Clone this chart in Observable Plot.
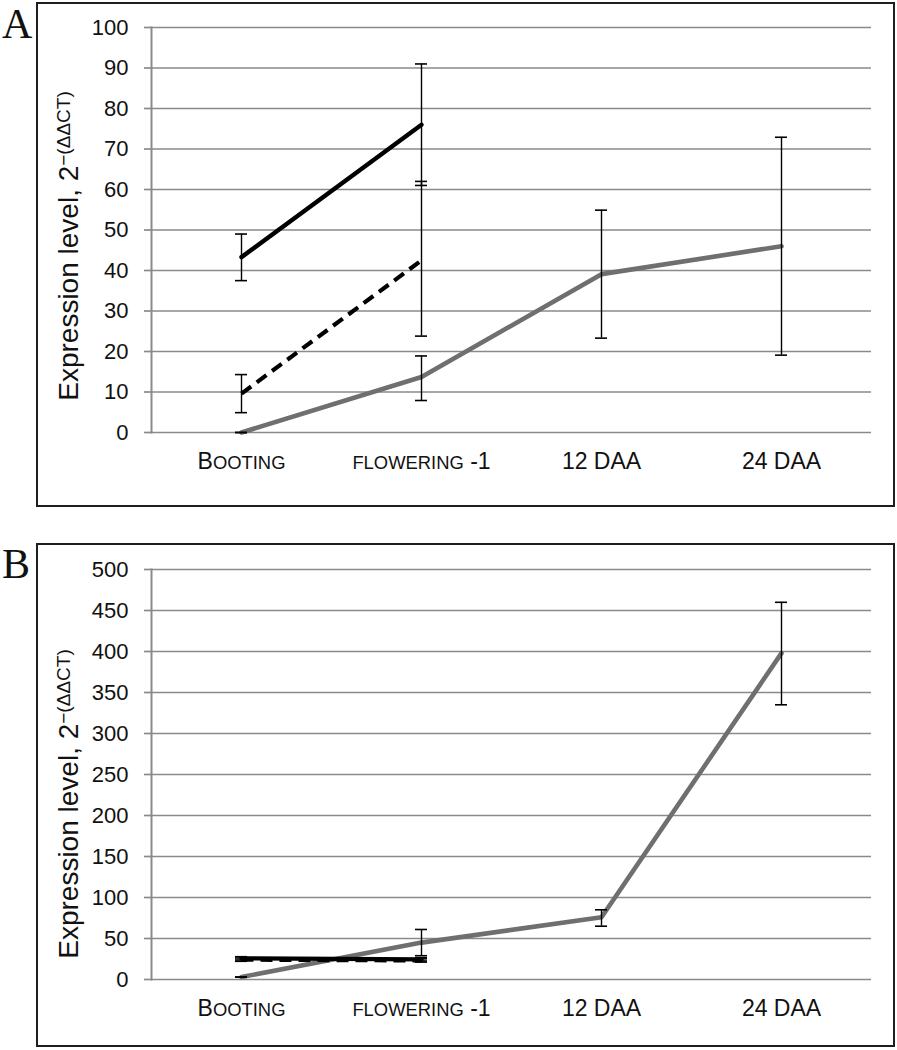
<!DOCTYPE html>
<html>
<head>
<meta charset="utf-8">
<script src="https://cdn.jsdelivr.net/npm/d3@7"></script>
<script src="https://cdn.jsdelivr.net/npm/@observablehq/plot@0.6"></script>
<style>
  body { margin: 0; background: #fff; }
  #root { position: relative; width: 897px; height: 1050px; overflow: hidden; }
  .panel { position: absolute; left: 0; }
  .box { position: absolute; box-sizing: border-box; border: 2px solid #1e1e1e; background: transparent; pointer-events: none; }
  .letter { position: absolute; font-family: "Liberation Serif", "Times New Roman", serif; font-size: 42px; line-height: 1; color: #111; }
  .ylab { position: absolute; font-family: "Liberation Sans", Arial, sans-serif; font-size: 28px; color: #111; white-space: nowrap; line-height: 1; transform: translate(-50%, -50%) rotate(-90deg); }
  .ylab span { font-size: 19px; position: relative; top: -0.4em; }
</style>
</head>
<body>
<div id="root">
  <div class="panel" id="panelA" style="top:0px"></div>
  <div class="panel" id="panelB" style="top:540px"></div>
  <div class="box" style="left:36px; top:2px; width:859px; height:505px"></div>
  <div class="box" style="left:36px; top:543px; width:859px; height:504px"></div>
  <div class="letter" style="left:2px; top:3px">A</div>
  <div class="letter" style="left:2px; top:543px">B</div>
  <div class="ylab" style="left:69px; top:246px">Expression level, 2<span>−(ΔΔCT)</span></div>
  <div class="ylab" style="left:69px; top:804px">Expression level, 2<span>−(ΔΔCT)</span></div>
</div>
<script>
// ---- data ----
const categories = ["Booting", "flowering -1", "12 DAA", "24 DAA"];
const yTicksA = [0, 10, 20, 30, 40, 50, 60, 70, 80, 90, 100];
const yTicksB = [0, 50, 100, 150, 200, 250, 300, 350, 400, 450, 500];

// Panel A
const aSolidX = ["Booting", "flowering -1"];
const aSolidY = [43.3, 76];
const aSolidLo = [37.5, 61];
const aSolidHi = [49, 91];

const aDashedX = ["Booting", "flowering -1"];
const aDashedY = [9.6, 42.5];
const aDashedLo = [4.9, 23.8];
const aDashedHi = [14.3, 62];

const aGrayX = ["Booting", "flowering -1", "12 DAA", "24 DAA"];
const aGrayY = [0, 13.7, 39.1, 46];
const aGrayLo = [0, 7.9, 23.3, 19.1];
const aGrayHi = [0, 18.9, 54.9, 72.9];

// Panel B
const bSolidX = ["Booting", "flowering -1"];
const bSolidY = [25.8, 24.6];
const bSolidLo = [23.8, 22.6];
const bSolidHi = [27.8, 26.6];

const bDashedX = ["Booting", "flowering -1"];
const bDashedY = [24.2, 23.2];
const bDashedLo = [22.2, 21.2];
const bDashedHi = [26.2, 25.2];

const bGrayX = ["Booting", "flowering -1", "12 DAA", "24 DAA"];
const bGrayY = [3, 45, 76, 398];
const bGrayLo = [3, 29, 65, 335];
const bGrayHi = [3, 61, 85, 460];

// ---- helpers ----
function rows(xs, ys, lo, hi) {
  return xs.map((x, i) => ({x, y: ys[i], lo: lo[i], hi: hi[i]}));
}

const GRID = "#8a8a8a";
const GRAYLINE = "#6f6f6f";
const FONT = "'Liberation Sans', Arial, sans-serif";
const CAP_INSET = 84; // (band width 180)/2 - half cap width 6
const XFONT = 23, XSMALL = 18.4;

function errorMarks(data) {
  return [
    Plot.ruleX(data, {x: "x", y1: "lo", y2: "hi", stroke: "#000", strokeWidth: 1.4}),
    Plot.tickY(data, {x: "x", y: "lo", stroke: "#000", strokeWidth: 1.6, insetLeft: CAP_INSET, insetRight: CAP_INSET}),
    Plot.tickY(data, {x: "x", y: "hi", stroke: "#000", strokeWidth: 1.6, insetLeft: CAP_INSET, insetRight: CAP_INSET})
  ];
}

// Excel-like small caps: lowercase letters drawn as smaller capitals
function smallCaps(svg) {
  d3.select(svg).selectAll('g[aria-label="x-axis tick label"] text').each(function() {
    const t = d3.select(this);
    const s = t.text();
    t.text(null);
    const runs = [];
    for (const ch of s) {
      const small = /[a-z]/.test(ch);
      const last = runs[runs.length - 1];
      if (last && last.small === small) last.s += ch; else runs.push({small, s: ch});
    }
    for (const r of runs) {
      t.append("tspan").attr("font-size", r.small ? XSMALL : XFONT).text(r.small ? r.s.toUpperCase() : r.s);
    }
  });
  return svg;
}

function panel(opts) {
  const {yDomain, yTicks, solid, dashed, gray, marginTop, marginBottom, height} = opts;
  const svg = Plot.plot({
    width: 897,
    height,
    marginLeft: 151,
    marginRight: 26,
    marginTop,
    marginBottom,
    style: {fontFamily: FONT, background: "transparent", color: "#111"},
    x: {type: "band", domain: categories, padding: 0},
    y: {domain: yDomain},
    marks: [
      Plot.gridY(yTicks, {stroke: GRID, strokeOpacity: 1, strokeWidth: 1.7}),
      Plot.frame({anchor: "left", stroke: GRID, strokeWidth: 2}),
      Plot.axisY(yTicks, {tickSize: 7, tickPadding: 16, stroke: GRID, strokeWidth: 1.7, fontSize: 22, fill: "#111", label: null, tickFormat: d => String(d)}),
      Plot.axisX({tickSize: 0, tickPadding: 20, fontSize: XFONT, fill: "#111", label: null}),
      Plot.line(gray, {x: "x", y: "y", stroke: GRAYLINE, strokeWidth: 4.6}),
      Plot.line(dashed, {x: "x", y: "y", stroke: "#000", strokeWidth: 4.2, strokeDasharray: "12,7", strokeLinecap: "butt"}),
      Plot.line(solid, {x: "x", y: "y", stroke: "#000", strokeWidth: 4.4}),
      ...errorMarks(gray),
      ...errorMarks(dashed),
      ...errorMarks(solid)
    ]
  });
  return smallCaps(svg);
}

const chartA = panel({
  yDomain: [0, 100], yTicks: yTicksA,
  solid: rows(aSolidX, aSolidY, aSolidLo, aSolidHi),
  dashed: rows(aDashedX, aDashedY, aDashedLo, aDashedHi),
  gray: rows(aGrayX, aGrayY, aGrayLo, aGrayHi),
  marginTop: 27, marginBottom: 78, height: 510
});
document.getElementById("panelA").append(chartA);

const chartB = panel({
  yDomain: [0, 500], yTicks: yTicksB,
  solid: rows(bSolidX, bSolidY, bSolidLo, bSolidHi),
  dashed: rows(bDashedX, bDashedY, bDashedLo, bDashedHi),
  gray: rows(bGrayX, bGrayY, bGrayLo, bGrayHi),
  marginTop: 29, marginBottom: 71, height: 510
});
document.getElementById("panelB").append(chartB);
</script>
</body>
</html>
